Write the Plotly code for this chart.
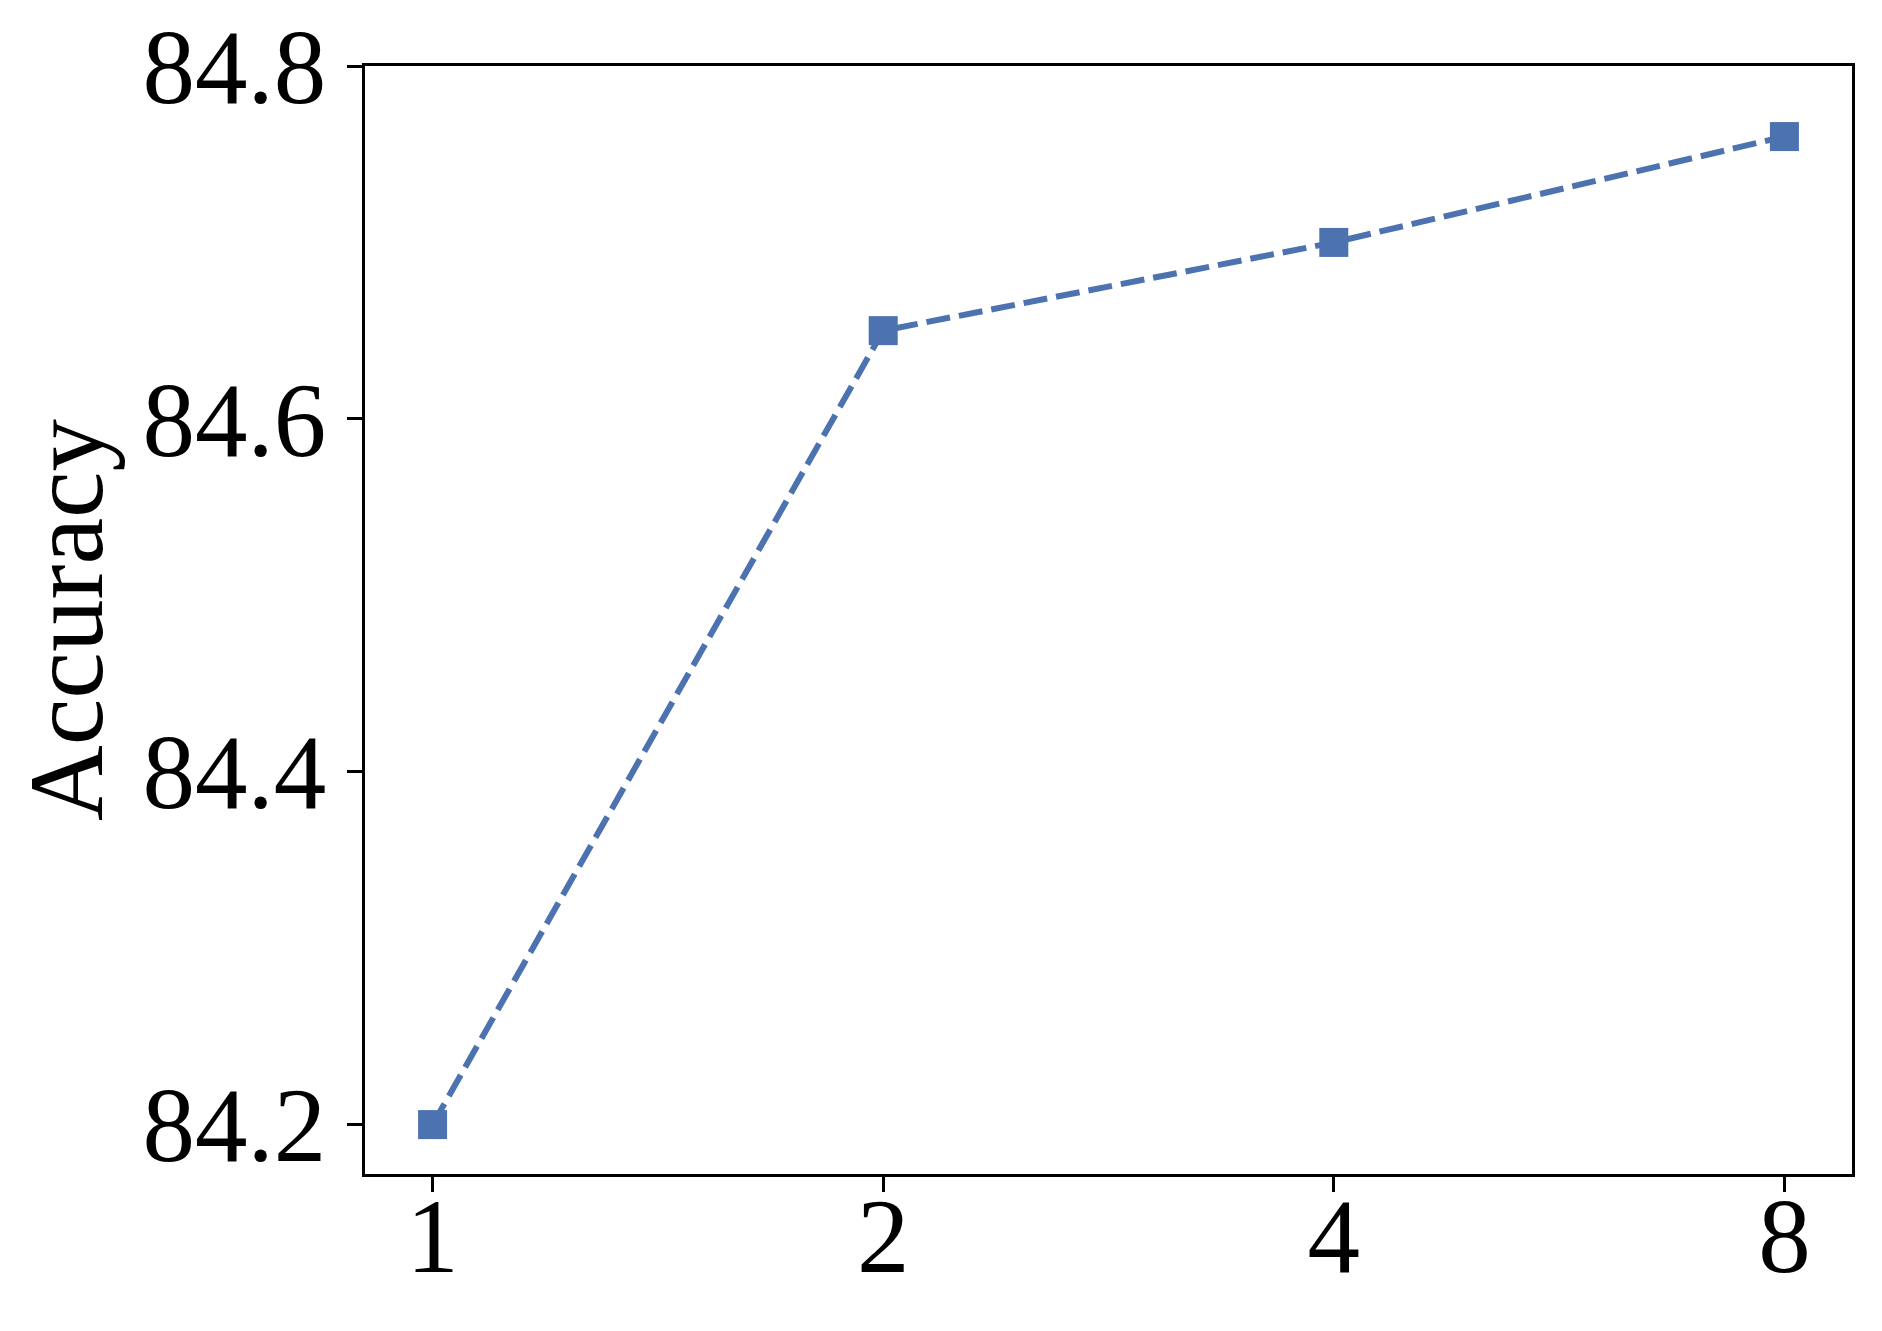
import plotly.graph_objects as go

# number of ... (x) vs accuracy
x_labels = ["1", "2", "4", "8"]
accuracy = [84.20, 84.65, 84.70, 84.76]
y_ticks = [84.2, 84.4, 84.6, 84.8]

LINE_COLOR = "#4C72B0"
FONT = "Liberation Serif"

fig = go.Figure()
fig.add_trace(
    go.Scatter(
        x=x_labels,
        y=accuracy,
        mode="lines+markers",
        line={"color": LINE_COLOR, "width": 6, "dash": "24px,9px"},
        marker={"symbol": "square", "size": 29, "color": LINE_COLOR},
        showlegend=False,
    )
)

axis_common = dict(
    showline=True,
    linecolor="black",
    linewidth=2.5,
    mirror=True,
    ticks="outside",
    ticklen=15,
    tickwidth=2.5,
    tickcolor="black",
    showgrid=False,
    zeroline=False,
    automargin=False,
    tickfont={"family": FONT, "size": 105, "color": "black"},
)

fig.update_xaxes(
    type="category",
    range=[-0.15, 3.15],
    ticklabelstandoff=-46,
    **axis_common,
)
fig.update_yaxes(
    range=[84.172, 84.8],
    tickvals=y_ticks,
    tickformat=".1f",
    ticklabelstandoff=0,
    ticklabelshift=0,
    title={"text": "Accuracy", "font": {"family": FONT, "size": 105, "color": "black"}, "standoff": 22},
    **axis_common,
)

# the page body adds an 8px offset, so the figure is 8px smaller
fig.update_layout(
    width=1874,
    height=1323,
    margin={"l": 357, "r": 30, "t": 58, "b": 157},
    paper_bgcolor="white",
    plot_bgcolor="white",
)

fig.write_html("out.html")
